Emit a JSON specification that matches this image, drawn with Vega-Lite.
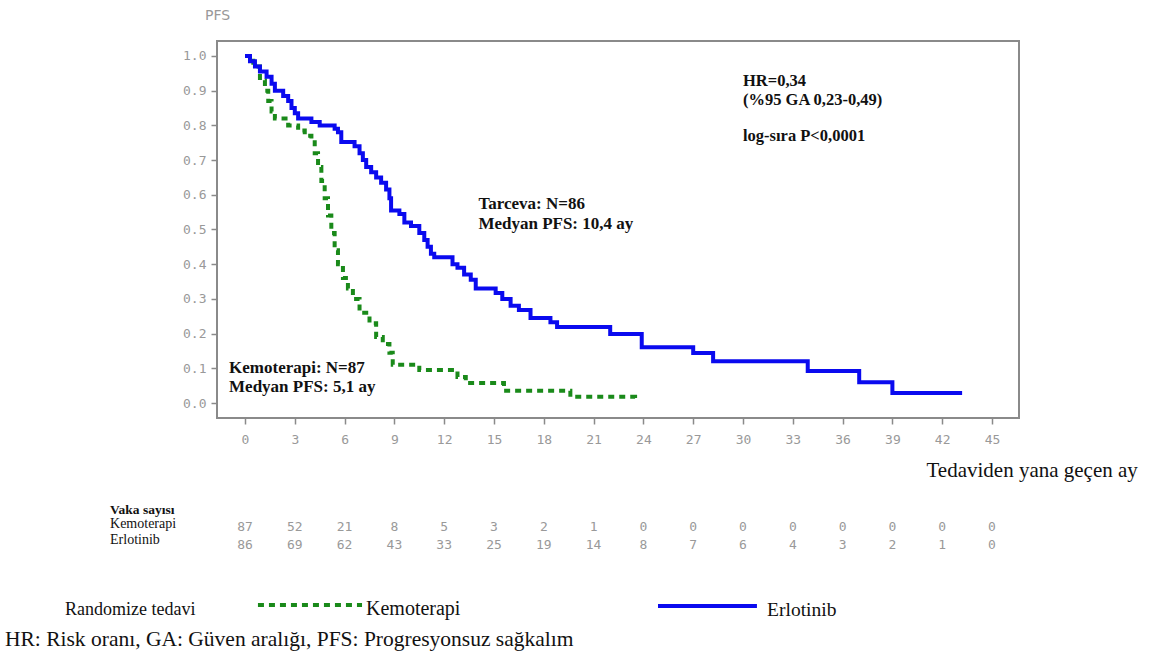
{
  "$schema": "https://vega.github.io/schema/vega-lite/v6.json",
  "autosize": {"type": "none"},
  "width": 802,
  "height": 377,
  "padding": {"left": 217, "top": 41, "right": 132, "bottom": 241},
  "background": "white",
  "data": {"values": [{}]},
  "config": {
    "view": {"stroke": "#8a8a8a", "strokeWidth": 2},
    "axis": {"domain": false, "grid": false, "tickColor": "#8a8a8a", "tickWidth": 1.5, "tickSize": 6, "labelOverlap": false,
      "labelColor": "#999999", "labelFont": "DejaVu Sans Mono", "labelFontSize": 13, "labelFontWeight": "normal"},
    "axisY": {"values": [0, 0.1, 0.2, 0.3, 0.4, 0.5, 0.6, 0.7, 0.8, 0.9, 1.0], "tickCount": 11, "labelOverlap": false, "format": ".1f", "labelPadding": 5,
      "titleAngle": 0, "titleFont": "DejaVu Sans", "titleFontSize": 14, "titleFontWeight": "normal",
      "titleColor": "#999999", "titleX": 0, "titleY": -26, "titleAlign": "center", "titleBaseline": "middle"},
    "axisX": {"values": [0, 3, 6, 9, 12, 15, 18, 21, 24, 27, 30, 33, 36, 39, 42, 45], "labelPadding": 9, "labelOverlap": false,
      "titleFont": "Liberation Serif", "titleFontSize": 21, "titleFontWeight": "normal",
      "titleColor": "#111", "titleAnchor": "start", "titleAlign": "left", "titleX": 709, "titleY": 52, "titleBaseline": "middle"}
  },
  "datasets": {
    "km": [
      {"grp": "Erlotinib", "t": 0, "s": 1.0}, {"grp": "Erlotinib", "t": 0.3, "s": 0.985}, {"grp": "Erlotinib", "t": 0.6, "s": 0.97},
      {"grp": "Erlotinib", "t": 0.9, "s": 0.955}, {"grp": "Erlotinib", "t": 1.3, "s": 0.94}, {"grp": "Erlotinib", "t": 1.6, "s": 0.92},
      {"grp": "Erlotinib", "t": 1.8, "s": 0.9}, {"grp": "Erlotinib", "t": 2.3, "s": 0.885}, {"grp": "Erlotinib", "t": 2.6, "s": 0.87},
      {"grp": "Erlotinib", "t": 2.8, "s": 0.85}, {"grp": "Erlotinib", "t": 3.0, "s": 0.835}, {"grp": "Erlotinib", "t": 3.2, "s": 0.82},
      {"grp": "Erlotinib", "t": 4.0, "s": 0.81}, {"grp": "Erlotinib", "t": 4.5, "s": 0.8}, {"grp": "Erlotinib", "t": 5.4, "s": 0.79},
      {"grp": "Erlotinib", "t": 5.6, "s": 0.78}, {"grp": "Erlotinib", "t": 5.8, "s": 0.752}, {"grp": "Erlotinib", "t": 6.6, "s": 0.74},
      {"grp": "Erlotinib", "t": 6.9, "s": 0.72}, {"grp": "Erlotinib", "t": 7.1, "s": 0.7}, {"grp": "Erlotinib", "t": 7.3, "s": 0.68},
      {"grp": "Erlotinib", "t": 7.6, "s": 0.665}, {"grp": "Erlotinib", "t": 7.9, "s": 0.65}, {"grp": "Erlotinib", "t": 8.2, "s": 0.635},
      {"grp": "Erlotinib", "t": 8.5, "s": 0.615}, {"grp": "Erlotinib", "t": 8.7, "s": 0.59}, {"grp": "Erlotinib", "t": 8.8, "s": 0.555},
      {"grp": "Erlotinib", "t": 9.3, "s": 0.545}, {"grp": "Erlotinib", "t": 9.6, "s": 0.52}, {"grp": "Erlotinib", "t": 10.0, "s": 0.51},
      {"grp": "Erlotinib", "t": 10.5, "s": 0.49}, {"grp": "Erlotinib", "t": 10.8, "s": 0.47}, {"grp": "Erlotinib", "t": 11.0, "s": 0.45},
      {"grp": "Erlotinib", "t": 11.2, "s": 0.43}, {"grp": "Erlotinib", "t": 11.4, "s": 0.42}, {"grp": "Erlotinib", "t": 12.5, "s": 0.4},
      {"grp": "Erlotinib", "t": 12.8, "s": 0.39}, {"grp": "Erlotinib", "t": 13.2, "s": 0.37}, {"grp": "Erlotinib", "t": 13.6, "s": 0.355},
      {"grp": "Erlotinib", "t": 13.9, "s": 0.33}, {"grp": "Erlotinib", "t": 15.1, "s": 0.317}, {"grp": "Erlotinib", "t": 15.5, "s": 0.3},
      {"grp": "Erlotinib", "t": 16.0, "s": 0.28}, {"grp": "Erlotinib", "t": 16.5, "s": 0.268}, {"grp": "Erlotinib", "t": 17.2, "s": 0.245},
      {"grp": "Erlotinib", "t": 18.4, "s": 0.233}, {"grp": "Erlotinib", "t": 18.8, "s": 0.219}, {"grp": "Erlotinib", "t": 22.0, "s": 0.199},
      {"grp": "Erlotinib", "t": 23.9, "s": 0.161}, {"grp": "Erlotinib", "t": 27.0, "s": 0.144}, {"grp": "Erlotinib", "t": 28.2, "s": 0.12},
      {"grp": "Erlotinib", "t": 33.9, "s": 0.092}, {"grp": "Erlotinib", "t": 37.0, "s": 0.06}, {"grp": "Erlotinib", "t": 39.0, "s": 0.029},
      {"grp": "Erlotinib", "t": 43.2, "s": 0.029},
      {"grp": "Kemoterapi", "t": 0, "s": 1.0}, {"grp": "Kemoterapi", "t": 0.5, "s": 0.97}, {"grp": "Kemoterapi", "t": 0.9, "s": 0.93},
      {"grp": "Kemoterapi", "t": 1.2, "s": 0.9}, {"grp": "Kemoterapi", "t": 1.4, "s": 0.87}, {"grp": "Kemoterapi", "t": 1.6, "s": 0.84},
      {"grp": "Kemoterapi", "t": 1.8, "s": 0.82}, {"grp": "Kemoterapi", "t": 2.6, "s": 0.8}, {"grp": "Kemoterapi", "t": 3.2, "s": 0.785},
      {"grp": "Kemoterapi", "t": 3.6, "s": 0.77}, {"grp": "Kemoterapi", "t": 4.0, "s": 0.76}, {"grp": "Kemoterapi", "t": 4.2, "s": 0.72},
      {"grp": "Kemoterapi", "t": 4.4, "s": 0.68}, {"grp": "Kemoterapi", "t": 4.6, "s": 0.64}, {"grp": "Kemoterapi", "t": 4.8, "s": 0.59},
      {"grp": "Kemoterapi", "t": 5.0, "s": 0.54}, {"grp": "Kemoterapi", "t": 5.2, "s": 0.49}, {"grp": "Kemoterapi", "t": 5.4, "s": 0.44},
      {"grp": "Kemoterapi", "t": 5.6, "s": 0.4}, {"grp": "Kemoterapi", "t": 5.9, "s": 0.36}, {"grp": "Kemoterapi", "t": 6.2, "s": 0.33},
      {"grp": "Kemoterapi", "t": 6.5, "s": 0.3}, {"grp": "Kemoterapi", "t": 6.9, "s": 0.26}, {"grp": "Kemoterapi", "t": 7.5, "s": 0.23},
      {"grp": "Kemoterapi", "t": 7.9, "s": 0.19}, {"grp": "Kemoterapi", "t": 8.3, "s": 0.17}, {"grp": "Kemoterapi", "t": 8.7, "s": 0.145},
      {"grp": "Kemoterapi", "t": 8.9, "s": 0.11}, {"grp": "Kemoterapi", "t": 10.5, "s": 0.095}, {"grp": "Kemoterapi", "t": 12.8, "s": 0.075},
      {"grp": "Kemoterapi", "t": 13.3, "s": 0.058}, {"grp": "Kemoterapi", "t": 15.6, "s": 0.035}, {"grp": "Kemoterapi", "t": 19.6, "s": 0.018},
      {"grp": "Kemoterapi", "t": 23.5, "s": 0.0}
    ],
    "risk": [
      {"grp": "Kemoterapi", "t": 0, "n": 87}, {"grp": "Kemoterapi", "t": 3, "n": 52}, {"grp": "Kemoterapi", "t": 6, "n": 21},
      {"grp": "Kemoterapi", "t": 9, "n": 8}, {"grp": "Kemoterapi", "t": 12, "n": 5}, {"grp": "Kemoterapi", "t": 15, "n": 3},
      {"grp": "Kemoterapi", "t": 18, "n": 2}, {"grp": "Kemoterapi", "t": 21, "n": 1}, {"grp": "Kemoterapi", "t": 24, "n": 0},
      {"grp": "Kemoterapi", "t": 27, "n": 0}, {"grp": "Kemoterapi", "t": 30, "n": 0}, {"grp": "Kemoterapi", "t": 33, "n": 0},
      {"grp": "Kemoterapi", "t": 36, "n": 0}, {"grp": "Kemoterapi", "t": 39, "n": 0}, {"grp": "Kemoterapi", "t": 42, "n": 0},
      {"grp": "Kemoterapi", "t": 45, "n": 0},
      {"grp": "Erlotinib", "t": 0, "n": 86}, {"grp": "Erlotinib", "t": 3, "n": 69}, {"grp": "Erlotinib", "t": 6, "n": 62},
      {"grp": "Erlotinib", "t": 9, "n": 43}, {"grp": "Erlotinib", "t": 12, "n": 33}, {"grp": "Erlotinib", "t": 15, "n": 25},
      {"grp": "Erlotinib", "t": 18, "n": 19}, {"grp": "Erlotinib", "t": 21, "n": 14}, {"grp": "Erlotinib", "t": 24, "n": 8},
      {"grp": "Erlotinib", "t": 27, "n": 7}, {"grp": "Erlotinib", "t": 30, "n": 6}, {"grp": "Erlotinib", "t": 33, "n": 4},
      {"grp": "Erlotinib", "t": 36, "n": 3}, {"grp": "Erlotinib", "t": 39, "n": 2}, {"grp": "Erlotinib", "t": 42, "n": 1},
      {"grp": "Erlotinib", "t": 45, "n": 0}
    ]
  },
  "layer": [
    {
      "data": {"name": "km"},
      "transform": [{"filter": "datum.grp === 'Kemoterapi'"}],
      "mark": {"type": "line", "interpolate": "step-after", "color": "#1a8a1a", "strokeWidth": 4, "strokeDash": [6, 5]},
      "encoding": {
        "x": {"field": "t", "type": "quantitative", "scale": {"domain": [-1.687, 46.627], "nice": false, "zero": false},
          "axis": {"title": "Tedaviden yana geçen ay", "values": [0, 3, 6, 9, 12, 15, 18, 21, 24, 27, 30, 33, 36, 39, 42, 45]}},
        "y": {"field": "s", "type": "quantitative", "scale": {"domain": [-0.0432, 1.0432], "nice": false, "zero": false},
          "axis": {"title": "PFS", "values": [0, 0.1, 0.2, 0.3, 0.4, 0.5, 0.6, 0.7, 0.8, 0.9, 1.0]}}
      }
    },
    {
      "data": {"name": "km"},
      "transform": [{"filter": "datum.grp === 'Erlotinib'"}],
      "mark": {"type": "line", "interpolate": "step-after", "color": "#0a0aef", "strokeWidth": 4},
      "encoding": {
        "x": {"field": "t", "type": "quantitative"},
        "y": {"field": "s", "type": "quantitative"}
      }
    },
    {
      "data": {"name": "risk"},
      "transform": [{"filter": "datum.grp === 'Kemoterapi'"}],
      "mark": {"type": "text", "font": "DejaVu Sans Mono", "fontSize": 13, "color": "#999999", "align": "center", "baseline": "middle"},
      "encoding": {"x": {"field": "t", "type": "quantitative"}, "y": {"datum": -0.357}, "text": {"field": "n"}}
    },
    {
      "data": {"name": "risk"},
      "transform": [{"filter": "datum.grp === 'Erlotinib'"}],
      "mark": {"type": "text", "font": "DejaVu Sans Mono", "fontSize": 13, "color": "#999999", "align": "center", "baseline": "middle"},
      "encoding": {"x": {"field": "t", "type": "quantitative"}, "y": {"datum": -0.409}, "text": {"field": "n"}}
    },
    {
      "mark": {"type": "text", "font": "Liberation Serif", "fontSize": 13.5, "fontWeight": "bold", "color": "#111", "align": "left", "baseline": "middle"},
      "encoding": {"x": {"datum": -8.13}, "y": {"datum": -0.308}, "text": {"value": "Vaka sayısı"}}
    },
    {
      "mark": {"type": "text", "font": "Liberation Serif", "fontSize": 14, "color": "#111", "align": "left", "baseline": "middle"},
      "encoding": {"x": {"datum": -8.13}, "y": {"datum": -0.349}, "text": {"value": "Kemoterapi"}}
    },
    {
      "mark": {"type": "text", "font": "Liberation Serif", "fontSize": 14, "color": "#111", "align": "left", "baseline": "middle"},
      "encoding": {"x": {"datum": -8.13}, "y": {"datum": -0.395}, "text": {"value": "Erlotinib"}}
    },
    {
      "mark": {"type": "text", "font": "Liberation Serif", "fontSize": 16.5, "fontWeight": "bold", "color": "#111", "align": "left", "baseline": "middle", "lineHeight": 19},
      "encoding": {"x": {"datum": 30.0}, "y": {"datum": 0.928}, "text": {"value": ["HR=0,34", "(%95 GA 0,23-0,49)"]}}
    },
    {
      "mark": {"type": "text", "font": "Liberation Serif", "fontSize": 16.5, "fontWeight": "bold", "color": "#111", "align": "left", "baseline": "middle"},
      "encoding": {"x": {"datum": 30.0}, "y": {"datum": 0.769}, "text": {"value": "log-sıra P<0,0001"}}
    },
    {
      "mark": {"type": "text", "font": "Liberation Serif", "fontSize": 17, "fontWeight": "bold", "color": "#111", "align": "left", "baseline": "middle", "lineHeight": 19.5},
      "encoding": {"x": {"datum": 14.06}, "y": {"datum": 0.573}, "text": {"value": ["Tarceva: N=86", "Medyan PFS: 10,4 ay"]}}
    },
    {
      "mark": {"type": "text", "font": "Liberation Serif", "fontSize": 17, "fontWeight": "bold", "color": "#111", "align": "left", "baseline": "middle", "lineHeight": 19},
      "encoding": {"x": {"datum": -0.96}, "y": {"datum": 0.101}, "text": {"value": ["Kemoterapi: N=87", "Medyan PFS: 5,1 ay"]}}
    },
    {
      "mark": {"type": "text", "font": "Liberation Serif", "fontSize": 18, "color": "#111", "align": "left", "baseline": "middle"},
      "encoding": {"x": {"datum": -10.84}, "y": {"datum": -0.597}, "text": {"value": "Randomize tedavi"}}
    },
    {
      "mark": {"type": "rule", "color": "#1a8a1a", "strokeWidth": 4, "strokeDash": [6, 5]},
      "encoding": {"x": {"datum": 0.78}, "x2": {"datum": 7.05}, "y": {"datum": -0.582}}
    },
    {
      "mark": {"type": "text", "font": "Liberation Serif", "fontSize": 20, "color": "#111", "align": "left", "baseline": "middle"},
      "encoding": {"x": {"datum": 7.29}, "y": {"datum": -0.594}, "text": {"value": "Kemoterapi"}}
    },
    {
      "mark": {"type": "rule", "color": "#0a0aef", "strokeWidth": 4},
      "encoding": {"x": {"datum": 24.88}, "x2": {"datum": 30.84}, "y": {"datum": -0.585}}
    },
    {
      "mark": {"type": "text", "font": "Liberation Serif", "fontSize": 19.5, "color": "#111", "align": "left", "baseline": "middle"},
      "encoding": {"x": {"datum": 31.45}, "y": {"datum": -0.597}, "text": {"value": "Erlotinib"}}
    },
    {
      "mark": {"type": "text", "font": "Liberation Serif", "fontSize": 21.5, "color": "#111", "align": "left", "baseline": "middle"},
      "encoding": {"x": {"datum": -14.46}, "y": {"datum": -0.683}, "text": {"value": "HR: Risk oranı, GA: Güven aralığı, PFS: Progresyonsuz sağkalım"}}
    }
  ]
}
